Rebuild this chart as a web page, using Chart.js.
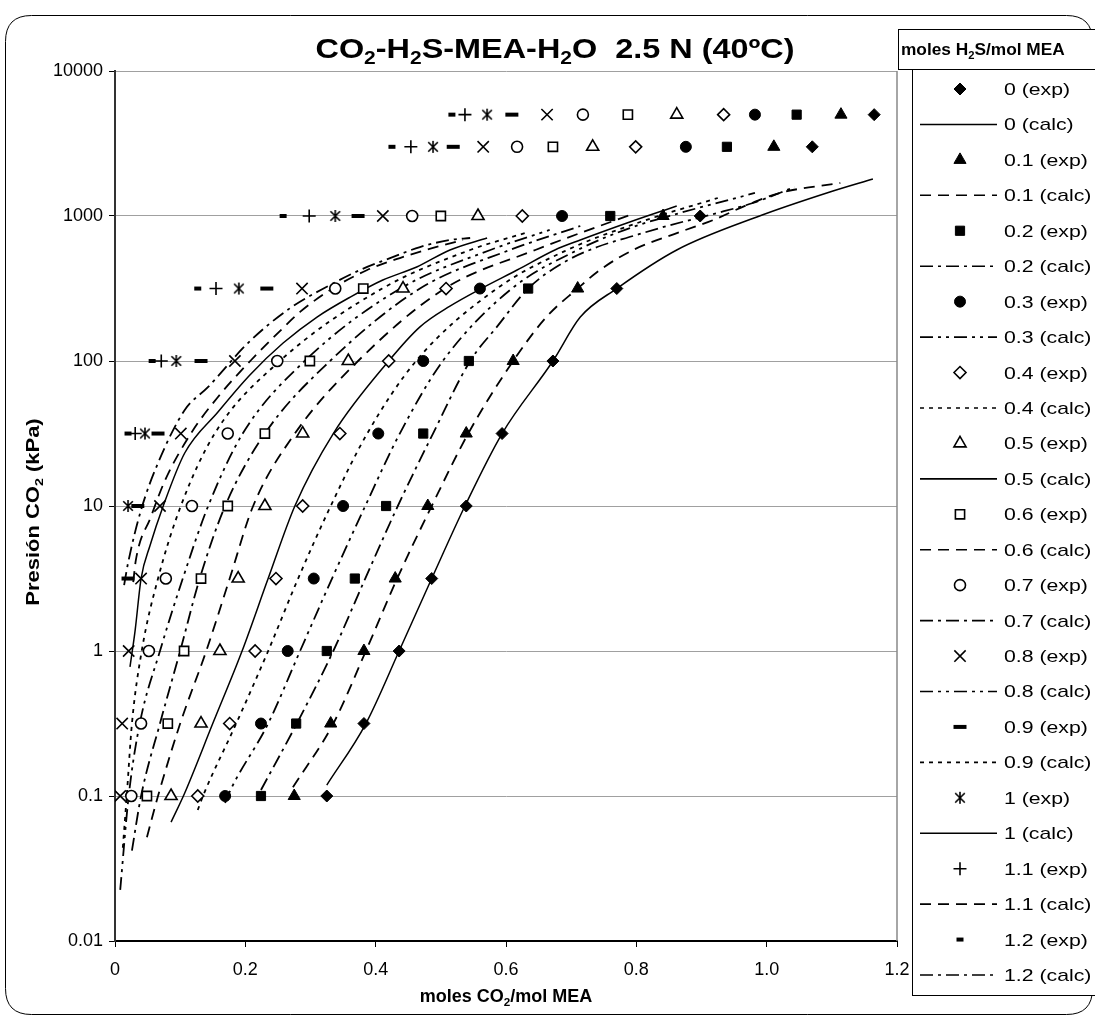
<!DOCTYPE html>
<html>
<head>
<meta charset="utf-8">
<script src="https://cdn.jsdelivr.net/npm/chart.js@4.4.1/dist/chart.umd.min.js"></script>
<style>
  html, body { margin: 0; padding: 0; background: #fff; }
  #chart { display: block; }
</style>
</head>
<body>
<canvas id="chart" width="1095" height="1020"></canvas>
<script>
// pressure levels of the experimental rows (kPa)
const pressureLevels = [5000, 3000, 1000, 316, 100, 31.6, 10, 3.16, 1, 0.316, 0.1]
const loadingLabels = ['0', '0.1', '0.2', '0.3', '0.4', '0.5', '0.6', '0.7', '0.8', '0.9', '1', '1.1', '1.2']
const yTickValues = [0.01, 0.1, 1, 10, 100, 1000, 10000]

// experimental loadings (mol CO2/mol MEA) at each pressure level, null = no point
const exp00 = [1.165, 1.070, 0.898, 0.770, 0.672, 0.594, 0.539, 0.486, 0.436, 0.382, 0.325]
const exp01 = [1.114, 1.011, 0.841, 0.710, 0.611, 0.539, 0.480, 0.430, 0.382, 0.331, 0.275]
const exp02 = [1.046, 0.939, 0.760, 0.634, 0.543, 0.473, 0.416, 0.368, 0.325, 0.278, 0.224]
const exp03 = [0.982, 0.876, 0.686, 0.560, 0.473, 0.404, 0.350, 0.305, 0.265, 0.224, 0.169]
const exp04 = [0.934, 0.799, 0.625, 0.508, 0.420, 0.345, 0.288, 0.247, 0.215, 0.176, 0.127]
const exp05 = [0.862, 0.733, 0.557, 0.442, 0.358, 0.288, 0.230, 0.189, 0.161, 0.132, 0.086]
const exp06 = [0.787, 0.672, 0.500, 0.381, 0.299, 0.230, 0.173, 0.132, 0.106, 0.081, 0.049]
const exp07 = [0.718, 0.617, 0.456, 0.338, 0.249, 0.173, 0.118, 0.078, 0.052, 0.040, 0.025]
const exp08 = [0.663, 0.565, 0.411, 0.287, 0.184, 0.101, 0.069, 0.040, 0.021, 0.011, 0.008]
const exp09 = [0.609, 0.519, 0.373, 0.233, 0.132, 0.066, 0.035, 0.020, null, null, null]
const exp10 = [0.571, 0.488, 0.338, 0.190, 0.094, 0.046, 0.020, null, null, null, null]
const exp11 = [0.537, 0.454, 0.298, 0.155, 0.071, 0.031, null, null, null, null, null]
const exp12 = [0.517, 0.425, 0.258, 0.127, 0.057, 0.020, null, null, null, null, null]

// calculated curves, [loading, pressure] pairs
const calc00 = [[0.325, 0.119], [0.385, 0.316], [0.436, 1], [0.486, 3.16], [0.537, 10], [0.594, 31.6], [0.672, 100], [0.714, 201], [0.770, 316], [0.862, 583], [0.985, 985], [1.097, 1464], [1.163, 1800]]
const calc01 = [[0.273, 0.115], [0.335, 0.316], [0.385, 1], [0.433, 3.16], [0.486, 10], [0.542, 31.6], [0.611, 100], [0.662, 201], [0.710, 316], [0.744, 424], [0.795, 583], [0.867, 776], [0.918, 938], [0.970, 1191], [1.020, 1441], [1.113, 1689]]
const calc02 = [[0.224, 0.110], [0.279, 0.316], [0.335, 1], [0.384, 3.16], [0.434, 10], [0.488, 31.6], [0.545, 100], [0.586, 172], [0.634, 316], [0.687, 474], [0.740, 611], [0.795, 728], [0.847, 853], [0.918, 1032], [0.979, 1229], [1.043, 1585]]
const calc03 = [[0.169, 0.0895], [0.173, 0.1], [0.235, 0.316], [0.284, 1], [0.333, 3.16], [0.384, 10], [0.437, 31.6], [0.503, 100], [0.609, 316], [0.710, 583], [0.790, 826], [0.867, 1049], [0.982, 1441]]
const calc04 = [[0.127, 0.080], [0.135, 0.1], [0.186, 0.316], [0.235, 1], [0.281, 3.16], [0.331, 10], [0.387, 31.6], [0.462, 100], [0.586, 316], [0.694, 583], [0.806, 909], [0.925, 1331]]
const calc05 = [[0.086, 0.066], [0.107, 0.105], [0.150, 0.316], [0.195, 1], [0.235, 3.16], [0.276, 10], [0.335, 31.6], [0.420, 100], [0.468, 172], [0.514, 239], [0.562, 316], [0.617, 424], [0.675, 583], [0.714, 683], [0.790, 909], [0.862, 1172]]
const calc06 = [[0.049, 0.052], [0.066, 0.1], [0.100, 0.316], [0.140, 1], [0.176, 3.16], [0.212, 10], [0.276, 31.6], [0.373, 100], [0.506, 316], [0.645, 583], [0.790, 1016]]
const calc07 = [[0.026, 0.042], [0.040, 0.1], [0.069, 0.316], [0.100, 1], [0.130, 3.16], [0.169, 10], [0.230, 31.6], [0.330, 100], [0.468, 316], [0.606, 583], [0.714, 853]]
const calc08 = [[0.008, 0.0225], [0.021, 0.1], [0.038, 0.316], [0.069, 1], [0.104, 3.16], [0.143, 10], [0.196, 31.6], [0.291, 100], [0.438, 316], [0.576, 583], [0.667, 801]]
const calc09 = [[0.012, 0.044], [0.018, 0.1], [0.026, 0.316], [0.041, 1], [0.066, 3.16], [0.101, 10], [0.153, 31.6], [0.253, 100], [0.410, 316], [0.545, 583], [0.629, 763]]
const calc10 = [[0.023, 0.776], [0.031, 1.40], [0.040, 3.16], [0.054, 5.38], [0.074, 10], [0.107, 23.2], [0.158, 44.5], [0.207, 80.1], [0.258, 133], [0.310, 201], [0.361, 276], [0.411, 362], [0.463, 445], [0.514, 583], [0.571, 705]]
const calc11 = [[0.028, 2.99], [0.032, 4.24], [0.055, 8.40], [0.077, 15.1], [0.117, 31.9], [0.158, 56.5], [0.209, 101.6], [0.255, 164], [0.284, 218], [0.335, 319], [0.387, 424], [0.437, 513], [0.488, 602], [0.534, 683]]
const calc12 = [[0.014, 2.85], [0.020, 4.04], [0.040, 9.39], [0.066, 19.8], [0.107, 45.9], [0.143, 66.2], [0.204, 133], [0.269, 232], [0.330, 334], [0.376, 424], [0.427, 522], [0.468, 611], [0.514, 683], [0.545, 705]]

const expSeries = [exp00, exp01, exp02, exp03, exp04, exp05, exp06, exp07, exp08, exp09, exp10, exp11, exp12]
const calcSeries = [calc00, calc01, calc02, calc03, calc04, calc05, calc06, calc07, calc08, calc09, calc10, calc11, calc12]

// ---- styles ----
const FONT = "'Liberation Sans', Arial, sans-serif"

function makeAsterisk(size) {
  const c = document.createElement('canvas')
  c.width = size
  c.height = size
  const g = c.getContext('2d')
  const m = size / 2
  const r = size / 2 - 1
  g.strokeStyle = '#000'
  g.lineWidth = 1.6
  g.beginPath()
  g.moveTo(m, m - r); g.lineTo(m, m + r)
  g.moveTo(m - r * 0.8, m - r * 0.8); g.lineTo(m + r * 0.8, m + r * 0.8)
  g.moveTo(m + r * 0.8, m - r * 0.8); g.lineTo(m - r * 0.8, m + r * 0.8)
  g.stroke()
  return c
}

const asterisk = makeAsterisk(14)

const markerStyles = [
  { pointStyle: 'rectRot', radius: 6, fill: '#000', borderWidth: 1 },
  { pointStyle: 'triangle', radius: 7, fill: '#000', borderWidth: 1 },
  { pointStyle: 'rect', radius: 6.5, fill: '#000', borderWidth: 1 },
  { pointStyle: 'circle', radius: 5.5, fill: '#000', borderWidth: 1 },
  { pointStyle: 'rectRot', radius: 6, fill: '#fff', borderWidth: 1.6 },
  { pointStyle: 'triangle', radius: 7, fill: '#fff', borderWidth: 1.6 },
  { pointStyle: 'rect', radius: 6.5, fill: '#fff', borderWidth: 1.6 },
  { pointStyle: 'circle', radius: 5.5, fill: '#fff', borderWidth: 1.6 },
  { pointStyle: 'crossRot', radius: 8, fill: '#000', borderWidth: 1.6 },
  { pointStyle: 'line', radius: 6.5, fill: '#000', borderWidth: 4 },
  { pointStyle: asterisk, radius: 6, fill: '#000', borderWidth: 1 },
  { pointStyle: 'cross', radius: 6.5, fill: '#000', borderWidth: 1.6 },
  { pointStyle: 'line', radius: 3.5, fill: '#000', borderWidth: 4 }
]

const SOLID = []
const DASH = [11, 7]
const DASH_DOT = [13, 5, 3, 5]
const DASH_DOT_DOT = [13, 5, 3, 5, 3, 5]
const DOT = [4, 5]
const lineDashes = [SOLID, DASH, DASH_DOT, DASH_DOT_DOT, DOT, SOLID, DASH, DASH_DOT, DASH_DOT_DOT, DOT, SOLID, DASH, DASH_DOT]

// ---- datasets ----
const datasets = []
loadingLabels.forEach((label, i) => {
  const m = markerStyles[i]
  datasets.push({
    label: label + ' (exp)',
    data: pressureLevels
      .map((p, k) => expSeries[i][k] == null ? null : { x: expSeries[i][k], y: p })
      .filter(pt => pt !== null),
    showLine: false,
    pointStyle: m.pointStyle,
    pointRadius: m.radius,
    pointBackgroundColor: m.fill,
    pointBorderColor: '#000',
    pointBorderWidth: m.borderWidth
  })
  datasets.push({
    label: label + ' (calc)',
    data: calcSeries[i].map(([x, y]) => ({ x, y })),
    showLine: true,
    borderColor: '#000',
    borderWidth: lineDashes[i].length ? 1.8 : 1.5,
    borderDash: lineDashes[i],
    pointRadius: 0,
    cubicInterpolationMode: 'monotone'
  })
})

// text with subscript parts, e.g. [['CO'], ['2', true]]
function textWidth(ctx, parts, size, bold) {
  let w = 0
  parts.forEach(([t, sub]) => {
    ctx.font = (bold ? 'bold ' : '') + (sub ? size * 0.65 : size) + 'px ' + FONT
    w += ctx.measureText(t).width
  })
  return w
}

// stretch widens the text along its own direction
function drawRich(ctx, parts, x, y, size, bold, align, stretch = 1) {
  const w = textWidth(ctx, parts, size, bold)
  ctx.save()
  ctx.translate(x, y)
  ctx.scale(stretch, 1)
  let cx = align === 'center' ? -w / 2 : 0
  ctx.textBaseline = 'alphabetic'
  ctx.textAlign = 'left'
  ctx.fillStyle = '#000'
  parts.forEach(([t, sub]) => {
    ctx.font = (bold ? 'bold ' : '') + (sub ? size * 0.65 : size) + 'px ' + FONT
    ctx.fillText(t, cx, sub ? size * 0.22 : 0)
    cx += ctx.measureText(t).width
  })
  ctx.restore()
}

function roundRect(ctx, x, y, w, h, r) {
  ctx.beginPath()
  ctx.moveTo(x + r, y)
  ctx.lineTo(x + w - r, y)
  ctx.quadraticCurveTo(x + w, y, x + w, y + r)
  ctx.lineTo(x + w, y + h - r)
  ctx.quadraticCurveTo(x + w, y + h, x + w - r, y + h)
  ctx.lineTo(x + r, y + h)
  ctx.quadraticCurveTo(x, y + h, x, y + h - r)
  ctx.lineTo(x, y + r)
  ctx.quadraticCurveTo(x, y, x + r, y)
  ctx.closePath()
}

const framePlugin = {
  id: 'frame',
  beforeDraw(chart) {
    const ctx = chart.ctx
    ctx.save()
    ctx.fillStyle = '#fff'
    ctx.fillRect(0, 0, chart.width, chart.height)
    ctx.strokeStyle = '#000'
    ctx.lineWidth = 1
    roundRect(ctx, 5.5, 15.5, 1087, 999, 26)
    ctx.stroke()
    ctx.restore()
  },
  afterDraw(chart) {
    const ctx = chart.ctx
    const area = chart.chartArea
    ctx.save()

    // plot area right border
    ctx.strokeStyle = '#888'
    ctx.lineWidth = 1.5
    ctx.beginPath()
    ctx.moveTo(area.right, area.top)
    ctx.lineTo(area.right, area.bottom)
    ctx.stroke()

    // chart title
    drawRich(ctx, [['CO'], ['2', true], ['-H'], ['2', true], ['S-MEA-H'], ['2', true], ['O  2.5 N (40ºC)']], 555, 58, 27, true, 'center', 1.2)

    // axis titles
    drawRich(ctx, [['moles CO'], ['2', true], ['/mol MEA']], 506, 1002, 18, true, 'center')
    ctx.save()
    ctx.translate(39, 512)
    ctx.rotate(-Math.PI / 2)
    drawRich(ctx, [['Presión CO'], ['2', true], [' (kPa)']], 0, 0, 18, true, 'center', 1.22)
    ctx.restore()

    // legend title box
    ctx.fillStyle = '#fff'
    ctx.strokeStyle = '#000'
    ctx.lineWidth = 1
    ctx.fillRect(898.5, 29.5, 210, 40)
    ctx.strokeRect(898.5, 29.5, 210, 40)
    drawRich(ctx, [['moles H'], ['2', true], ['S/mol MEA']], 901, 55, 16, true, 'left', 1.08)

    // legend box
    ctx.fillStyle = '#fff'
    ctx.fillRect(912.5, 69.5, 200, 926)
    ctx.strokeRect(912.5, 69.5, 200, 926)

    const rowStep = 35.44
    chart.data.datasets.forEach((ds, j) => {
      const y = 89 + j * rowStep
      const i = Math.floor(j / 2)
      ctx.save()
      if (j % 2 === 0) {
        const m = markerStyles[i]
        ctx.fillStyle = m.fill
        ctx.strokeStyle = '#000'
        ctx.lineWidth = m.borderWidth
        Chart.helpers.drawPoint(ctx, {
          pointStyle: m.pointStyle,
          radius: m.radius,
          rotation: 0,
          borderWidth: m.borderWidth
        }, 960, y)
      } else {
        ctx.strokeStyle = '#000'
        ctx.lineWidth = 1.6
        ctx.setLineDash(lineDashes[i])
        ctx.beginPath()
        ctx.moveTo(920, y)
        ctx.lineTo(997, y)
        ctx.stroke()
      }
      ctx.restore()
      drawRich(ctx, [[ds.label]], 1004, y + 6, 17, false, 'left', 1.25)
    })

    ctx.restore()
  }
}

const ctx = document.getElementById('chart').getContext('2d')

new Chart(ctx, {
  type: 'scatter',
  data: { datasets },
  options: {
    responsive: false,
    animation: false,
    devicePixelRatio: 1,
    layout: { padding: { top: 71, right: 198, left: 0, bottom: 0 } },
    plugins: {
      legend: { display: false },
      tooltip: { enabled: false },
      title: { display: false }
    },
    scales: {
      x: {
        type: 'linear',
        min: 0,
        max: 1.2,
        ticks: {
          stepSize: 0.2,
          color: '#000',
          padding: 12,
          maxRotation: 0,
          font: { family: FONT, size: 18 }
        },
        grid: { drawOnChartArea: false, tickLength: 6, tickColor: '#000' },
        border: { color: '#000', width: 2 },
        afterFit(scale) { scale.height = 79 }
      },
      y: {
        type: 'logarithmic',
        min: 0.01,
        max: 10000,
        afterBuildTicks(scale) {
          scale.ticks = yTickValues.map(v => ({ value: v }))
        },
        ticks: {
          color: '#000',
          padding: 6,
          font: { family: FONT, size: 18 },
          callback: value => String(value)
        },
        grid: { color: '#a0a0a0', lineWidth: 1, tickLength: 6, tickColor: '#000' },
        border: { color: '#333', width: 2 },
        afterFit(scale) { scale.width = 115 }
      }
    }
  },
  plugins: [framePlugin]
})
</script>
</body>
</html>
